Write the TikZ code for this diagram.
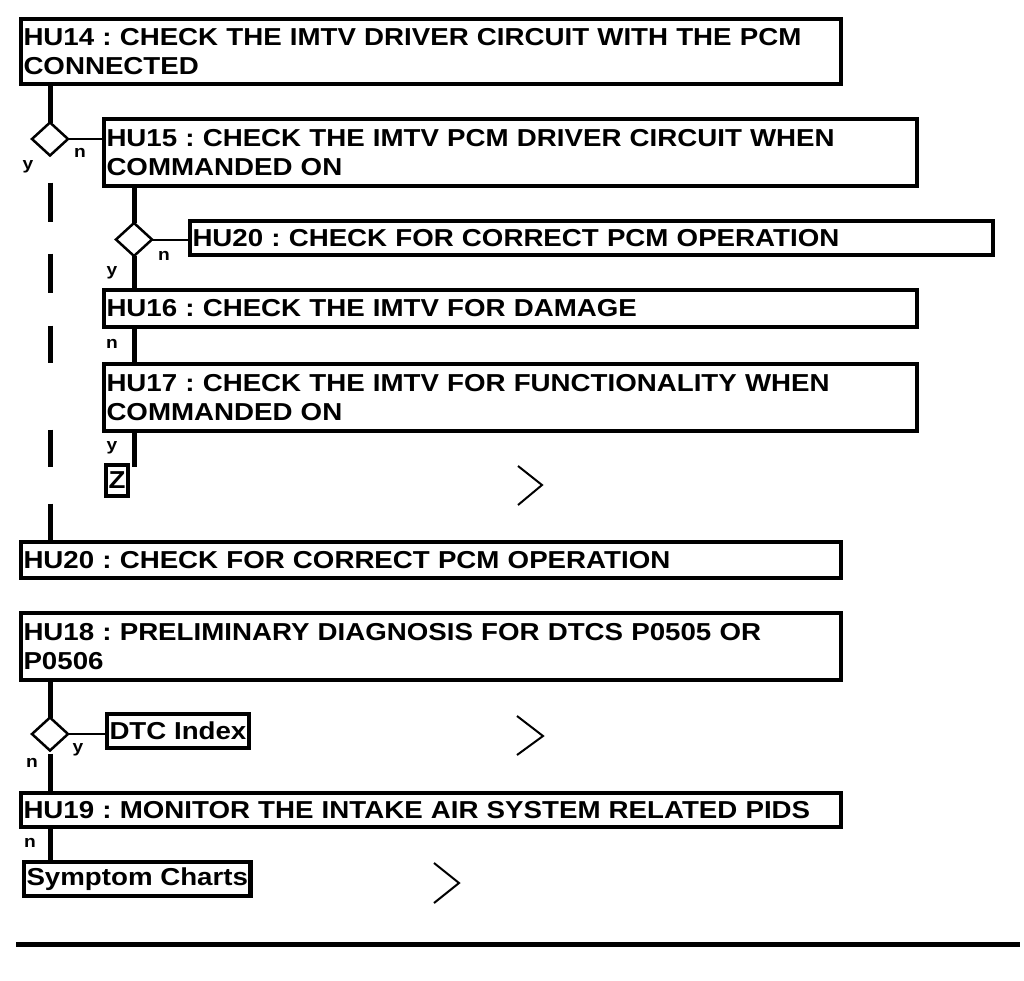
\documentclass[tikz,border=0pt]{standalone}
\usepackage{fontspec}
\usetikzlibrary{shapes.geometric}
\setmainfont{Liberation Sans}[FakeStretch=1.13]
\frenchspacing
\begin{document}
\begin{tikzpicture}[x=1pt,y=-1pt,
 box/.style={draw, line width=4.5pt, rectangle, anchor=north west, outer sep=0pt,
   inner xsep=2.5pt, inner ysep=0pt, align=left,
   font=\bfseries\fontsize{24.5}{29}\selectfont},
 conn/.style={line width=5pt},
 thinl/.style={line width=2pt},
 dec/.style={draw, line width=2.5pt, diamond, minimum width=36pt, minimum height=33pt, inner sep=0pt, outer sep=0pt},
 lab/.style={anchor=base, inner sep=0pt, font=\bfseries\fontsize{17}{20}\selectfont},
 chev/.style={line width=2pt, line join=miter}
]
\useasboundingbox (0,0) rectangle (1024,980);

% boxes
\node[box, minimum width=820pt, minimum height=65pt, text width=815pt] (hu14) at (21,19)
  {HU14 : CHECK THE IMTV DRIVER CIRCUIT WITH THE PCM\\CONNECTED};
\node[box, minimum width=813pt, minimum height=67pt, text width=808pt] (hu15) at (104,119)
  {HU15 : CHECK THE IMTV PCM DRIVER CIRCUIT WHEN\\COMMANDED ON};
\node[box, minimum width=803pt, minimum height=34pt, text width=798pt] (hu20a) at (190,221)
  {HU20 : CHECK FOR CORRECT PCM OPERATION};
\node[box, minimum width=813pt, minimum height=37pt, text width=808pt] (hu16) at (104,290)
  {HU16 : CHECK THE IMTV FOR DAMAGE};
\node[box, minimum width=813pt, minimum height=67pt, text width=808pt] (hu17) at (104,364)
  {HU17 : CHECK THE IMTV FOR FUNCTIONALITY WHEN\\COMMANDED ON};
\node[box, minimum width=22pt, minimum height=31pt, inner xsep=0pt] (z) at (106,465) {Z};
\node[box, minimum width=820pt, minimum height=36pt, text width=815pt] (hu20b) at (21,542)
  {HU20 : CHECK FOR CORRECT PCM OPERATION};
\node[box, minimum width=820pt, minimum height=67pt, text width=815pt] (hu18) at (21,613)
  {HU18 : PRELIMINARY DIAGNOSIS FOR DTCS P0505 OR\\P0506};
\node[box, minimum width=141pt, minimum height=34pt] (dtc) at (107,714) {DTC Index};
\node[box, minimum width=820pt, minimum height=34pt, text width=815pt] (hu19) at (21,793)
  {HU19 : MONITOR THE INTAKE AIR SYSTEM RELATED PIDS};
\node[box, minimum width=226pt, minimum height=34pt] (sym) at (24,862) {Symptom Charts};

% decisions
\node[dec] (d1) at (50,139) {};
\node[dec] (d2) at (134,239.5) {};
\node[dec] (d3) at (50,734) {};

% connectors
\draw[conn] (d1.north |- hu14.south) -- (d1.north);
\draw[thinl] (d1.east) -- (d1.east -| hu15.west);
\draw[conn, dash pattern=on 0pt off 27pt on 39pt off 32pt on 39pt off 33pt on 37pt off 67pt on 37pt off 37pt on 40pt]
  (d1.south) -- (d1.south |- hu20b.north);
\draw[conn] (d2.north |- hu15.south) -- (d2.north);
\draw[thinl] (d2.east) -- (d2.east -| hu20a.west);
\draw[conn] (d2.south) -- (d2.south |- hu16.north);
\draw[conn] (d2.south |- hu16.south) -- (d2.south |- hu17.north);
\coordinate (zend) at (134,467);
\draw[conn] (d2.south |- hu17.south) -- (zend);
\draw[conn] (d3.north |- hu18.south) -- (d3.north);
\draw[thinl] (d3.east) -- (d3.east -| dtc.west);
\draw[conn, shorten <=3pt] (d3.south) -- (d3.south |- hu19.north);
\draw[conn] (d3.south |- hu19.south) -- (d3.south |- sym.north);

% labels
\node[lab] (y1) at (28,169) {y};
\node[lab] (n1) at (80,157) {n};
\node[lab] (n2) at (164,260) {n};
\node[lab] (y2) at (112,275) {y};
\node[lab] (n3) at (112,348) {n};
\node[lab] (y3) at (112,450) {y};
\node[lab] (y4) at (78,752) {y};
\node[lab] (n4) at (32,767) {n};
\node[lab] (n5) at (30,847) {n};

% chevrons
\draw[chev] (518,466) -- (542,485) -- (518,505);
\draw[chev] (517,716) -- (543,736) -- (517,755);
\draw[chev] (434,863) -- (459,883) -- (434,903);

% bottom rule
\draw[line width=5pt] (16,944) -- (1020,944);
\end{tikzpicture}
\end{document}
